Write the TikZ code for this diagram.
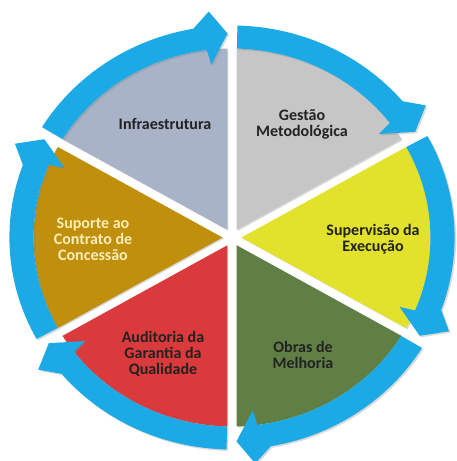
\documentclass[tikz,border=0pt]{standalone}
\usepackage{fontspec}
\setmainfont{Carlito}
\usetikzlibrary{shadows}
\definecolor{ringblue}{HTML}{1BAAE6}
\definecolor{secInfra}{HTML}{A8B3C8}
\definecolor{secGestao}{HTML}{C6C6C6}
\definecolor{secSuperv}{HTML}{E2E22C}
\definecolor{secObras}{HTML}{5F7F45}
\definecolor{secAudit}{HTML}{DA3A3C}
\definecolor{secSuporte}{HTML}{C08F0C}
\definecolor{txtdark}{HTML}{222222}
\definecolor{txtlight}{HTML}{F9EDB8}
\begin{document}
\begin{tikzpicture}[x=1pt,y=1pt,
  lbl/.style={font=\bfseries\fontsize{16}{16}\selectfont, align=center, text=txtdark, inner sep=0pt},
  sectorfill/.style={drop shadow={opacity=0.3,shadow xshift=1.2pt,shadow yshift=-1.2pt}},
  ringarrow/.style={fill=ringblue, drop shadow={opacity=0.3,shadow xshift=1.5pt,shadow yshift=-1.5pt}}]
\path[use as bounding box] (0,0) rectangle (456,461);
\begin{scope}[shift={(232,223.5)}, xscale=1.05]
\def\myRin{189}
\def\myRout{212}
% pie sectors with white gaps
\foreach \a/\c in {90/secInfra, 30/secGestao, -30/secSuperv, -90/secObras, -150/secAudit, 150/secSuporte}
  \fill[\c, sectorfill] (\a+30:9) -- (\a+1.36:\myRin)
     arc[start angle=\a+1.36, end angle=\a+58.64, radius=\myRin] -- cycle;
% ring arrows (clockwise)
\foreach \a in {90, 30, -30, -90, -150, 150}
  \fill[ringarrow] (\a+58.6:\myRout)
     arc[start angle=\a+58.6, end angle=\a+10, radius=\myRout]
     -- (\a+5.6:227) -- (\a+1.2:204) -- (\a+6.5:174) -- (\a+7.3:\myRin)
     arc[start angle=\a+7.3, end angle=\a+58.6, radius=\myRin] -- cycle;
\end{scope}
% labels
\node[lbl] (infra) at (165,337) {Infraestrutura};
\node[lbl] (gestao) at (302,337) {Gestão\\Metodológica};
\node[lbl] (superv) at (373,222) {Supervisão da\\Execução};
\node[lbl] (obras) at (303,106) {Obras de\\Melhoria};
\node[lbl] (audit) at (163,107) {Auditoria da\\Garantia da\\Qualidade};
\node[lbl, text=txtlight] (suporte) at (93,222) {Suporte ao\\Contrato de\\Concessão};
\end{tikzpicture}
\end{document}
